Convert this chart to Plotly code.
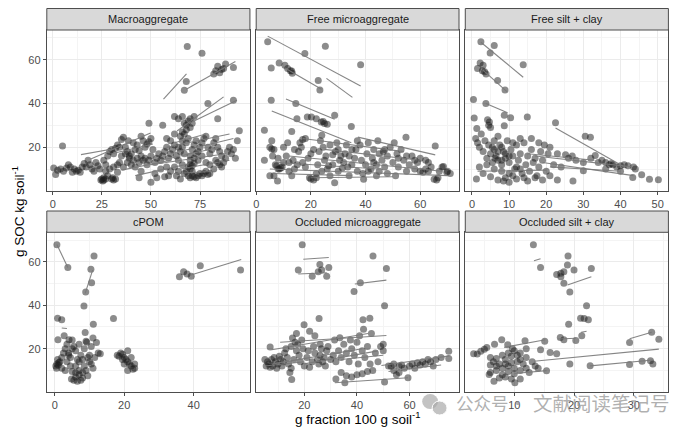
import plotly.graph_objects as go

# ---------------- data ----------------
panel_titles = ["Macroaggregate", "Free microaggregate", "Free silt + clay",
                "cPOM", "Occluded microaggregate", "Occluded silt + clay"]

macro_pts = [(0.5,10.5),(1.5,7.5),(2.5,9.5),(4,10),(5.5,9),(7,10.5),(8,12),(9,11),(10,8.5),(11,10),(12,9),(13,9.5),
    (14,8.5),(15,11),(16,12.5),(17,11),(18,14),(19,12),(20,10),(21,9),(22,13),(23,11.5),(24,10),(5,20.5),
    (24.5,5),(25,5.5),(25.5,4.5),(26,5),(27,5.5),(30,5.5),(31,5),(32,5.5),(30.5,6),(26,6),
    (26,14),(27,12),(28,16),(29,18),(30,19),(31,17),(32,19.5),(33,21),(34,20),(35,23.5),(36,24.5),(37,20),(38,18),
    (39,16),(40,17),(38.5,23),(41,22),(42,19),(43,21),(44,18.5),(45,25),(46,23),(47,20),(48,21.5),(49,22.5),(50,24),
    (51,19),(33,12),(34,13),(36,11),(38,13),(40,12),(42,11),(44,13),(46,14),(48,12),(35,16),(37,17),(39,15),(41,14),
    (43,15),(45,16),(47,15),(49,14),(50,16),(27,9),(29,10),(31,11),(33,8.5),(28,7),
    (44,6),(50,4),(45,9),(52,8),(53,6),(55,10),(57,6.5),(58,11),(59,7),(60,9),(62,11),(63,7),(64,9),(65,5.5),(66,12),
    (67,8),(68,9),(69,7),(70,6),(71,7),(72,6.5),(73,6),(74,7),(75,8),(76,7),(77,8),(78,9),(79,7.5),(80,8),
    (69,11),(70,12),(71,11.5),(72,12.5),(70,10),(71,9),
    (52,13),(53,15),(54,17),(55,14),(56,16),(57,18),(58,20),(59,15),(60,17),(61,19),(62,21),(63,16),(64,14),(65,18),
    (66,20),(67,17),(68,22),(69,24),(70,16),(71,19),(72,21),(73,23),(74,18),(75,20),(76,22),(77,24),(78,25),(79,20),
    (80,17),(81,19),(82,22),(83,24),(84,20),(85,18),(86,16),(87,13),(88,15),(89,18),(90,20),(91,17),(92,19),(93,15),
    (94,23),(95,27.5),(84,13),(85,12),(86,11),(83,14),
    (49,31),(56,30),(62,34),(64,33),(66,34),(67,31),(68,30),(69,32),(70,29),(71,31),(72,34),(70,33),(65,25),(66,27),
    (67,26),(68,28),(64,20),(66,23),(79,40),(84,33),(92,41.5),
    (68.5,66),(76,63),(68,50),(67,46),(82,53.5),(83,55),(84,57),(85,54),(86,55.5),(88,58),(92,56.5),(87,56),
    (60,23),(62,26),(58,24),(76,16),(74,14),(78,13),(80,12),(82,10),(70,14),(72,15),(73,17)]
macro_lines_x0 = [56.4, 68, 63.3, 69.3, 14.4, 19.4, 30, 42, 55, 58, 50, 60, 62, 65, 35, 62]
macro_lines_y0 = [42, 46.5, 27.4, 30.8, 16.6, 14.6, 17, 7, 14, 20, 12, 17, 8, 10, 9.5, 22]
macro_lines_x1 = [68.1, 93, 87, 93.8, 30.4, 49.8, 51, 69, 85, 90, 88, 92, 83, 90, 60, 78]
macro_lines_y1 = [53.5, 59.2, 43, 41.5, 19.2, 26.5, 21.5, 12.3, 20, 26, 17, 24, 9, 14, 14, 26]

freemicro_pts = [(4.2,68.2),(17.8,62.8),(25.3,66.2),(38.2,57.7),(5.5,56.2),(8.4,58.5),(10.5,57.5),(11.5,56),(12.5,55),
    (13.2,53.8),(13,54.8),(22.7,50.5),(23.3,46.2),(5.5,41.5),(14.5,40),(14.9,33),(18.7,33.8),(20.2,33.8),(22,33),
    (23.8,31.5),(25,30.8),(26,30.5),(24.5,31.8),(28.7,34.6),(34.8,29.5),(3,27.7),(5.7,23),(13,27.2),
    (6,16),(7,12),(8,10),(9,10.5),(9.5,11),(8.5,10),(7.5,11.5),(6.5,7),(7.8,4.6),(5,7),(10,13),(11,16),(12,9),(13,7),
    (14,10),(15,12),(15.5,18),(16,22),(16.5,20),(17,23.5),(18,24),(19,15),(19.5,6),(20,5.5),(21,5),(22,6),(22.5,12),
    (23,18),(23.5,23),(24,25.5),(24.5,20),(25,14),(26,10),(27,7),(28,12),(28.7,3.8),(29,18),(29.5,22),(30,9),(30.5,14),
    (31,16),(31.5,10.5),(32,13),(32.5,17),(33,21),(33.5,11),(34,7),(35,12),(36,15),(36.5,19),(37,23),(38,21),(38.5,14),
    (39,8),(39.3,5.4),(40,12),(40.5,17),(41,22),(42,10),(42.5,15),(43,19),(44,12),(44.5,23),(45,9),(46,14),(46.5,18),
    (47,11),(48,16),(49,20),(50,13),(50.5,22),(51,7),(51.5,17),(52,11),(53,19),(54,14),(54.8,24.6),(55,9),(56,12),
    (57,16),(58,10),(59,13),(60,9),(61,8.5),(62,10),(63,9),(64,11),(65.5,20.5),(65.1,5.4),(66,5),(67,9),(68,11),
    (68.5,11.2),(69.7,8.5),(70,9),(71,8),(66.5,6),
    (5,20),(6.5,19),(8,15),(10,20),(11.5,22),(12,13),(13.5,14),(14,19),(17,13),(18,11),(20,17),(21,19),(22,8),(24,9),
    (25.5,16),(27,21),(28,16.5),(26.5,11.5),(30,19),(34,16),(35,19),(37,9),(41,9),(43,13),(47,19),(52,15),(55,16),
    (48,8),(44,7),(58,14),(60,15),(62,14),(63,13),(45,17),(3,14),(5.7,19.2)]
freemicro_lines_x0 = [4.2, 25.7, 10.5, 10.9, 5.7, 37.2, 17, 5, 8, 12, 6, 20, 25]
freemicro_lines_y0 = [70.8, 51.5, 56.2, 42, 36.6, 24.6, 24, 10, 13, 16, 8, 6, 19]
freemicro_lines_x1 = [38.2, 35.2, 23.9, 28.7, 34.8, 65.5, 54, 70, 45, 68, 35, 50, 60]
freemicro_lines_y1 = [48, 42.8, 46.5, 32.8, 22, 16.5, 18, 7, 10, 9, 7, 6.5, 14]

freesilt_pts = [(2.4,68.2),(6,66.5),(4.9,63.1),(13.8,57.7),(2.2,58.5),(1.5,56),(3,57.5),(2.8,55),(3.8,53.5),(3.4,54.5),
    (6.9,50.5),(8.9,46.2),(0.4,41.8),(3.75,40),(0.6,33.4),(8.7,34.6),(10.4,33.5),(14.9,33.8),(8.7,29.8),(4.7,31.5),
    (4.5,30),(5,29),(4.2,32.5),(22.5,31.2),(30.5,25),(31.9,24.5),(1.3,28.5),(33.2,16.2),(25.2,16.6),
    (1,24),(1.5,22),(2,20),(2.5,26),(3,18),(3.5,23),(4,15),(4.5,21),(5,17),(5.5,13),(6,19),(6.5,16),(7,14),(7.5,21),
    (8,12),(8.5,18),(9,15),(9.5,23),(10,13),(10.5,19),(11,16),(11.5,10),(12,21),(12.5,14),(13,17),(13.5,8),(14,22),
    (14.5,12),(15,16),(15.5,9),(16,19),(16.5,13),(17,15),(17.5,7),(18,11),(18.5,18),(19,14),(19.5,21),(20,9),(20.5,17),
    (1.2,5.5),(3,8),(5,6.5),(7,5),(8.5,4.5),(9,6),(10,4),(11,7),(12,5.5),(13,10),(14,6),(15,4.5),(17,6),(19,5),(2,11),
    (4,12),(6,10),(8,9),(10,8),(12,11),(6,23),(7,25),(8,20),(5.5,20),(9,17),(7,18),(6.2,15),(8,14),(10,16),(11,22),
    (13,24),(16,24),(18,22),(21,20),(22,12),(23,17),(24,11),(21,7),(23,5),
    (26,15),(27,16),(28,14),(30,13),(30,9.2),(27.2,4.6),(32,15),(34,13),(35,14),(36,13),(37,12),(37.5,12.5),(38,12),
    (39,11),(40,11.5),(41,12),(42,11.5),(43.5,11),(43.3,6.2),(45.7,7.4),(47.8,5.4),(50.2,5.1),(44,10),(40,9),(36,10)]
freesilt_lines_x0 = [2.4, 2.9, 3.75, 22.5, 17, 19, 21, 1.5, 15]
freesilt_lines_y0 = [68, 55.4, 40, 28.8, 16, 13, 11, 9, 17]
freesilt_lines_x1 = [13.8, 9.4, 9.6, 40.8, 43, 43.5, 40, 20, 33]
freesilt_lines_y1 = [52, 45.4, 35.7, 11.2, 11, 7, 9, 9.5, 14]

cpom_pts = [(0.6,67.9),(3.75,57.4),(11.3,62.7),(10.4,56.6),(10.6,50.4),(8.9,46.1),(8.4,39.7),(11.1,31.3),(16.9,33.9),
    (0.8,34),(2,33.3),(0.9,24.1),(2.7,26),(4.1,24.1),(8.75,27.5),(11,24.9),(12,22.9),(13.1,17.7),(35.9,53.1),
    (37.1,55.4),(38.1,54.4),(39.3,53.4),(41.9,58.2),(53.5,56.2),
    (0.3,12),(0.6,13),(1,12.5),(1.2,13.6),(0.5,11),(1.5,14),(0.8,15),(2,16),(2.5,18),(3,20),(3.5,22),(4,17),(4,18),
    (4.5,16),(5,20),(5.5,21),(6,19),(3,10),(2,11),(6.5,15),(7,14),(7.5,17),(8,15),(8.5,12),(9,23.4),(9.2,23),(9.5,16),
    (10,14),(10.5,13),(11,11),(9,10),(8,9),(7,8),(6,8.9),(5,9.5),(4.8,6.1),(5.5,5.5),(6.5,5),(7.5,5.5),(8,6.5),(6,7),
    (7,10),(9.5,7.5),(10,17),(11.5,16),(12.5,18),(4.5,12),(3.5,14),(6,12),(8.5,20),(10.5,21),(7,22),(5,24),
    (18,17),(18.5,16.5),(19,18),(19.5,17.5),(20,16),(20.5,15),(21,14),(21,19),(21.5,13),(22,12),(22,16),(22.5,10.5),
    (23,13),(23,11),(21,10),(19.5,15),(20,13)]
cpom_lines_x0 = [0.6, 8.75, 39.2, 2.0]
cpom_lines_y0 = [68, 45.5, 53.9, 29.5]
cpom_lines_x1 = [3.75, 10.9, 53.7, 3.5]
cpom_lines_y1 = [57.4, 56.2, 61.1, 29.3]

occmicro_pts = [(19.2,67.9),(46.1,62.7),(51.2,56.9),(17.7,56.2),(23,53.4),(25.3,55.4),(25.9,58.8),(26.6,56.2),(29.3,57.4),
    (28.5,53.4),(41.3,50.4),(38.9,46.3),(50.5,39.8),(25.6,33.9),(42.3,33.3),(44.9,34),(19.9,31),
    (15.5,24.9),(7,20.8),(5,15),(5.5,12),(6,14),(6.5,13),(7,11.5),(7.5,15),(8,12),(8.5,16),(9,14),(9.5,11),(10,13),
    (10.5,16.5),(11,15),(11.5,12),(12,14),(12.5,18),(13,20),(13.5,16),(14,13),(14.5,9),(15.2,5.8),(15,11),(16,15),
    (16.5,23),(17,19),(17.5,22),(18,17),(18.5,14),(19,24),(19.5,20),(20,12),(21,16),(21.5,19),(22,11.5),(23,14),
    (23.5,21),(24,18),(25,15),(25.5,13),(26,17),(26.5,20),(27,14),(27.5,16),(28,12),(28.5,19),(29,21),(30,15),(31,17),
    (31.5,24),(32,14),(33,19),(33.5,25),(34,16),(35,22),(35.4,4.3),(36,18),(37,14),(37.5,24),(38,20),(39,17),(40,23),
    (40.5,13),(41,26),(42,19),(42.5,29),(43,16),(44,21),(45,13),(45.5,27),(46,10),(47,18),(48,14),(49,21),(50,22),
    (50.5,4.7),(50,19),(36,7.5),(38,7),(40,8),(42,8.5),(44,9.5),(32,6),(34,9),(22,28),(24,26),(26,22),(17,27),(15,21),
    (52,12),(53,11.9),(54,13),(55,8),(56,12),(57,12.5),(58,11),(59.4,6.6),(60,12),(61,13),(62,11),(63,13.5),(64,12.5),
    (65,14),(66,13),(67,15),(68,14),(69,12),(70,15),(72,16),(74.9,18.8),(74.9,15.5),(54,10),(56,9)]
occmicro_lines_x0 = [19.6, 17.7, 39.2, 10.8, 7.6, 8, 20, 34, 31.6, 49.3, 52, 5]
occmicro_lines_y0 = [61.2, 54.4, 49.8, 23, 19.5, 13, 13, 15, 4.3, 12.3, 9.5, 12]
occmicro_lines_x1 = [29.3, 28.5, 51.2, 51.2, 44.2, 42, 48, 50, 59.4, 75.2, 72, 20]
occmicro_lines_y1 = [62, 55, 51.6, 26.1, 27, 20, 19, 17, 6.6, 16.7, 12.5, 14]

occsilt_pts = [(13.2,67.9),(19,62.7),(14.4,57.4),(18.9,58.5),(20,56.2),(22.9,56.9),(17.1,54.2),(17.8,54.7),(18.3,55.4),
    (17.8,53.1),(18.3,50.1),(19.3,46.1),(22.1,39.8),(21.1,34),(21.7,33.9),(22.4,33.3),(19.1,31.3),(21.3,26),(20.3,23.8),
    (18.3,24.1),(17.7,25.2),(15.1,23.4),(11.8,23.7),(7.9,24.1),(6.7,22.1),(3.2,17.7),(3.8,17.6),(4.4,18.8),(5,19.8),
    (5.4,20.6),(8.9,21.8),(14.4,19.5),(16,18.3),(17.1,17.7),(29.3,22.9),(33,27.6),(34.2,24.4),(19.3,12.9),(22.7,12.1),
    (29.3,12.7),(31.4,14.2),(32.8,14.5),(33.2,13),(15.4,9.9),
    (6,16),(6.5,14),(7,15.5),(7.5,13),(8,17),(8.5,15),(9,18),(9.5,16.5),(10,19),(10.5,17),(11,15),(9,12),(8,11),(7,10),
    (6,9),(5.8,8.1),(6.6,5),(7.5,6.5),(8.5,7),(9.5,6),(10.1,4.3),(10,8.5),(11,10),(11.5,13),(12,11),(10.5,14),(9.5,13.5),
    (8.5,13),(7,12),(6,12.5),(12,16),(13,14),(12.5,9),(13.5,12),(11,6),(14,11),(9,9.5),(8,8),(10,11),(11,18),(12,20),
    (9.7,20)]
occsilt_lines_x0 = [13.3, 18.9, 29.3, 21.2, 8.3, 13.3, 22.7, 10, 17.3]
occsilt_lines_y0 = [60.5, 49.3, 24.6, 27.5, 20.6, 14.2, 12.1, 8.6, 24.5]
occsilt_lines_x1 = [14.4, 22.9, 33, 22.1, 15.2, 34.2, 33.2, 15.4, 20.3]
occsilt_lines_y1 = [61.4, 53.1, 27.6, 28, 24.1, 19.8, 14.8, 9.9, 24.8]

x_tickvals = [[0, 25, 50, 75], [0, 20, 40, 60], [0, 10, 20, 30, 40, 50],
              [0, 20, 40], [20, 40, 60], [10, 20, 30]]
y_tickvals = [20, 40, 60]

# ---------------- layout geometry ----------------
W, H = 692, 430
x_ranges = [[-3.0, 100.4], [0.0, 74.2], [-1.8, 52.9], [-2.3, 56.2], [1.7, 78.8], [1.8, 35.8]]
y_range = [0.2, 73.6]
col_px = [(44, 248), (254.3, 458), (464.3, 668.3)]
row_px = [(30, 190.5), (232.3, 391.7)]   # plot area top/bottom (px from top)
strip_px = [(8.5, 30), (211, 232.3)]

panels = [
    (macro_pts, macro_lines_x0, macro_lines_y0, macro_lines_x1, macro_lines_y1),
    (freemicro_pts, freemicro_lines_x0, freemicro_lines_y0, freemicro_lines_x1, freemicro_lines_y1),
    (freesilt_pts, freesilt_lines_x0, freesilt_lines_y0, freesilt_lines_x1, freesilt_lines_y1),
    (cpom_pts, cpom_lines_x0, cpom_lines_y0, cpom_lines_x1, cpom_lines_y1),
    (occmicro_pts, occmicro_lines_x0, occmicro_lines_y0, occmicro_lines_x1, occmicro_lines_y1),
    (occsilt_pts, occsilt_lines_x0, occsilt_lines_y0, occsilt_lines_x1, occsilt_lines_y1),
]

fig = go.Figure()
layout = dict(width=W, height=H, margin=dict(l=0, r=0, t=0, b=0),
              paper_bgcolor="white", plot_bgcolor="white", showlegend=False,
              font=dict(family="Liberation Sans, Arial, sans-serif", color="#4d4d4d"))
shapes, annotations = [], []

for i, (pts, lx0, ly0, lx1, ly1) in enumerate(panels):
    r, c = divmod(i, 3)
    xa = "x" if i == 0 else f"x{i+1}"
    ya = "y" if i == 0 else f"y{i+1}"
    xs = [p[0] for p in pts]
    ys = [p[1] for p in pts]
    fig.add_trace(go.Scatter(x=xs, y=ys, mode="markers", xaxis=xa, yaxis=ya,
                             marker=dict(size=7, color="rgba(25,25,25,0.5)", line=dict(width=0)),
                             hoverinfo="skip"))
    lxs, lys = [], []
    for a, b, cc, d in zip(lx0, ly0, lx1, ly1):
        lxs += [a, cc, None]
        lys += [b, d, None]
    fig.add_trace(go.Scatter(x=lxs, y=lys, mode="lines", xaxis=xa, yaxis=ya,
                             line=dict(color="rgba(120,120,120,0.9)", width=1.1), hoverinfo="skip"))

    x0p, x1p = col_px[c]
    t, b = row_px[r]
    dx = [x0p / W, x1p / W]
    dy = [1 - b / H, 1 - t / H]
    xt = x_tickvals[i]
    step = xt[1] - xt[0]
    xkey = "xaxis" if i == 0 else f"xaxis{i+1}"
    ykey = "yaxis" if i == 0 else f"yaxis{i+1}"
    layout[xkey] = dict(domain=dx, anchor=ya, range=x_ranges[i], tickvals=xt,
                        showgrid=True, gridcolor="#ebebeb", gridwidth=1, zeroline=False,
                        showline=True, mirror=True, linecolor="#4d4d4d", linewidth=1,
                        ticks="outside", ticklen=3, tickcolor="#4d4d4d",
                        tickfont=dict(size=11, color="#4d4d4d"),
                        minor=dict(tick0=xt[0] - step / 2, dtick=step, showgrid=True,
                                   gridcolor="#f4f4f4", gridwidth=0.6, ticks=""))
    layout[ykey] = dict(domain=dy, anchor=xa, range=y_range, tickvals=y_tickvals,
                        showgrid=True, gridcolor="#ebebeb", gridwidth=1, zeroline=False,
                        showline=True, mirror=True, linecolor="#4d4d4d", linewidth=1,
                        ticks="outside" if c == 0 else "", ticklen=3, tickcolor="#4d4d4d",
                        showticklabels=(c == 0),
                        tickfont=dict(size=11, color="#4d4d4d"),
                        minor=dict(tick0=10, dtick=20, showgrid=True,
                                   gridcolor="#f4f4f4", gridwidth=0.6, ticks=""))
    st, sb = strip_px[r]
    shapes.append(dict(type="rect", xref="paper", yref="paper",
                       x0=dx[0], x1=dx[1], y0=1 - sb / H, y1=1 - st / H,
                       fillcolor="#d9d9d9", line=dict(color="#4d4d4d", width=1), layer="above"))
    annotations.append(dict(text=panel_titles[i], xref="paper", yref="paper",
                            x=(dx[0] + dx[1]) / 2, y=1 - (st + sb) / 2 / H,
                            showarrow=False, xanchor="center", yanchor="middle",
                            font=dict(size=11, color="#1a1a1a")))

annotations.append(dict(text="g fraction 100 g soil<sup>-1</sup>", xref="paper", yref="paper",
                        x=356 / W, y=1 - 418 / H, showarrow=False, xanchor="center", yanchor="middle",
                        font=dict(size=13.5, color="#000000")))
annotations.append(dict(text="g SOC kg soil<sup>-1</sup>", xref="paper", yref="paper",
                        x=15 / W, y=1 - 211 / H, showarrow=False, textangle=-90,
                        xanchor="center", yanchor="middle",
                        font=dict(size=13.5, color="#000000")))
# watermark
wm_font = dict(color="rgba(150,150,150,0.75)", family="Noto Sans CJK SC")
annotations.append(dict(text="公众号", xref="paper", yref="paper",
                        x=453 / W, y=1 - 402 / H, showarrow=False, xanchor="left", yanchor="middle",
                        font=dict(size=17.5, **wm_font)))
annotations.append(dict(text="·", xref="paper", yref="paper",
                        x=517 / W, y=1 - 402 / H, showarrow=False, xanchor="center", yanchor="middle",
                        font=dict(size=17.5, **wm_font)))
annotations.append(dict(text="文献阅读笔记号", xref="paper", yref="paper",
                        x=530 / W, y=1 - 402 / H, showarrow=False, xanchor="left", yanchor="middle",
                        font=dict(size=19.5, **wm_font)))
shapes.append(dict(type="circle", xref="paper", yref="paper", x0=421 / W, x1=437 / W,
                   y0=1 - 409 / H, y1=1 - 394 / H, fillcolor="rgba(170,170,170,0.7)", line=dict(width=0)))
shapes.append(dict(type="circle", xref="paper", yref="paper", x0=431 / W, x1=446 / W,
                   y0=1 - 415 / H, y1=1 - 401 / H, fillcolor="rgba(170,170,170,0.7)",
                   line=dict(color="white", width=1)))

layout["shapes"] = shapes
layout["annotations"] = annotations
fig.update_layout(**layout)
fig.write_html("out.html")
